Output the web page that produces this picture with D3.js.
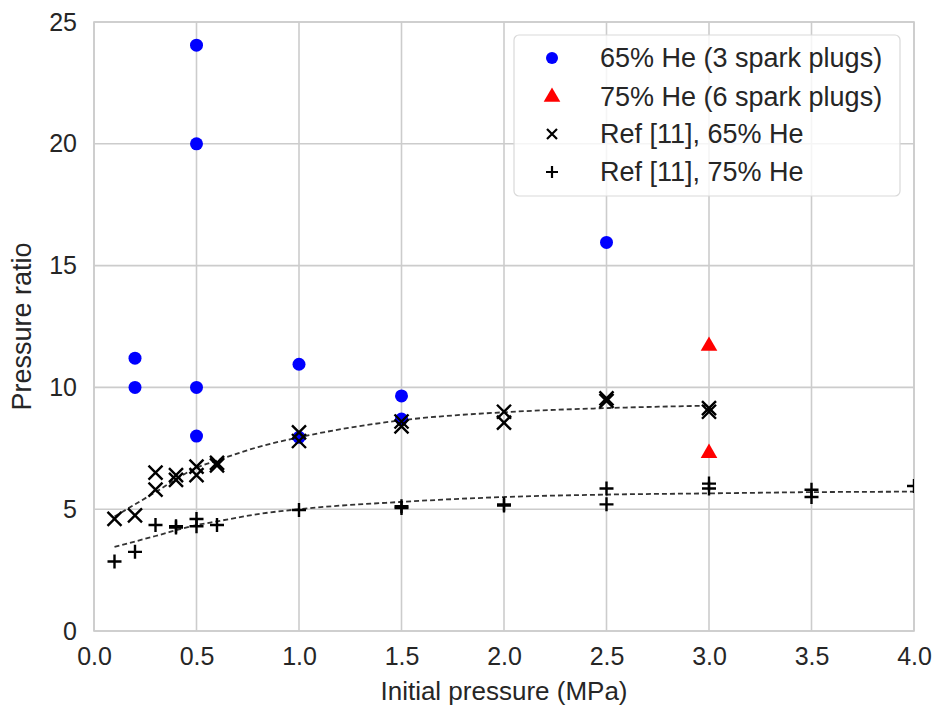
<!DOCTYPE html>
<html>
<head>
<meta charset="utf-8">
<script src="https://cdn.jsdelivr.net/npm/d3@7"></script>
<style>
body { margin: 0; background: #fff; }
text { font-family: "Liberation Sans", Arial, sans-serif; fill: #262626; }
</style>
</head>
<body>
<div id="svg"></div>
<script>
var width = 933;
var height = 707;

// 65% He, 3 spark plugs
var he65_x = [0.2, 0.2, 0.5, 0.5, 0.5, 0.5, 1.0, 1.0, 1.5, 1.5, 2.5];
var he65_y = [11.2, 10.0, 24.05, 20.0, 10.0, 8.0, 10.95, 7.95, 9.65, 8.7, 15.95];
// 75% He, 6 spark plugs
var he75_x = [3.0, 3.0];
var he75_y = [11.7, 7.3];
// Ref [11], 65% He
var ref65_x = [0.1, 0.2, 0.3, 0.3, 0.4, 0.4, 0.5, 0.5, 0.6, 0.6, 1.0, 1.0, 1.5, 1.5, 2.0, 2.0, 2.5, 2.5, 3.0, 3.0];
var ref65_y = [4.6, 4.75, 5.8, 6.5, 6.2, 6.4, 6.4, 6.75, 6.8, 6.9, 8.15, 7.8, 8.6, 8.4, 9.0, 8.55, 9.55, 9.45, 9.15, 9.0];
// Ref [11], 75% He
var ref75_x = [0.1, 0.2, 0.3, 0.4, 0.4, 0.5, 0.5, 0.6, 1.0, 1.5, 1.5, 2.0, 2.0, 2.5, 2.5, 3.0, 3.0, 3.5, 3.5, 4.0];
var ref75_y = [2.85, 3.25, 4.35, 4.25, 4.3, 4.3, 4.6, 4.35, 4.97, 5.05, 5.12, 5.15, 5.2, 5.85, 5.2, 6.05, 5.85, 5.8, 5.5, 5.95];
// dashed fit curves
var fit65_x = [0.1, 0.3, 0.5, 0.6, 0.8, 1.0, 1.5, 2.0, 2.5, 3.0];
var fit65_y = [4.7, 5.7, 6.7, 7.0, 7.55, 7.95, 8.65, 8.98, 9.15, 9.25];
var fit75_x = [0.1, 0.3, 0.5, 0.6, 0.8, 1.0, 1.5, 2.0, 2.5, 3.0, 3.5, 4.0];
var fit75_y = [3.45, 3.9, 4.35, 4.5, 4.8, 5.0, 5.3, 5.5, 5.6, 5.65, 5.7, 5.72];

var x_ticks = [0, 0.5, 1.0, 1.5, 2.0, 2.5, 3.0, 3.5, 4.0];
var y_ticks = [0, 5, 10, 15, 20, 25];
var legend_labels = ['65% He (3 spark plugs)', '75% He (6 spark plugs)', 'Ref [11], 65% He', 'Ref [11], 75% He'];

var m_left = 94, m_right = 914, m_top = 22, m_bottom = 631;

var canvas = d3.select('#svg')
	.append('svg')
	.attr('width', width)
	.attr('height', height);

var x = d3.scaleLinear().domain([0, 4]).range([m_left, m_right]);
var y = d3.scaleLinear().domain([0, 25]).range([m_bottom, m_top]);

function zip(xs, ys) { return xs.map((v, i) => [v, ys[i]]); }

// grid
canvas.append('g').selectAll('line').data(x_ticks).enter().append('line')
	.attr('x1', d => x(d)).attr('x2', d => x(d))
	.attr('y1', m_top).attr('y2', m_bottom)
	.attr('stroke', '#cccccc').attr('stroke-width', 1.6);
canvas.append('g').selectAll('line').data(y_ticks).enter().append('line')
	.attr('x1', m_left).attr('x2', m_right)
	.attr('y1', d => y(d)).attr('y2', d => y(d))
	.attr('stroke', '#cccccc').attr('stroke-width', 1.6);

// frame
canvas.append('rect')
	.attr('x', m_left).attr('y', m_top)
	.attr('width', m_right - m_left).attr('height', m_bottom - m_top)
	.attr('fill', 'none').attr('stroke', '#cccccc').attr('stroke-width', 1.6);

// tick labels
var xAxis = d3.axisBottom(x).tickValues(x_ticks).tickFormat(d3.format('.1f')).tickSize(0).tickPadding(16);
var gx = canvas.append('g').attr('transform', 'translate(0,' + m_bottom + ')').call(xAxis);
var yAxis = d3.axisLeft(y).tickValues(y_ticks).tickFormat(d3.format('d')).tickSize(0).tickPadding(17);
var gy = canvas.append('g').attr('transform', 'translate(' + m_left + ',0)').call(yAxis);
[gx, gy].forEach(g => {
	g.select('.domain').remove();
	g.selectAll('text').style('font-size', '25px').style('font-family', '"Liberation Sans", Arial, sans-serif').attr('fill', '#262626');
});

canvas.append('text')
	.attr('x', (m_left + m_right) / 2).attr('y', 700)
	.attr('text-anchor', 'middle').style('font-size', '26px')
	.text('Initial pressure (MPa)');
canvas.append('text')
	.attr('transform', 'translate(31,' + ((m_top + m_bottom) / 2) + ') rotate(-90)')
	.attr('text-anchor', 'middle').style('font-size', '27px')
	.text('Pressure ratio');

// clip
canvas.append('clipPath').attr('id', 'clip')
	.append('rect').attr('x', m_left).attr('y', m_top).attr('width', m_right - m_left).attr('height', m_bottom - m_top);
var plot = canvas.append('g').attr('clip-path', 'url(#clip)');

var line = d3.line().x(d => x(d[0])).y(d => y(d[1])).curve(d3.curveMonotoneX);
[zip(fit65_x, fit65_y), zip(fit75_x, fit75_y)].forEach(d => {
	plot.append('path').attr('d', line(d))
		.attr('fill', 'none').attr('stroke', '#333333')
		.attr('stroke-width', 1.8).attr('stroke-dasharray', '5,3');
});

var xMark = 'M-7,-7L7,7M-7,7L7,-7';
var plusMark = 'M-7,0L7,0M0,-7L0,7';

function cross(g, data, mark) {
	g.selectAll(null).data(data).enter().append('path')
		.attr('d', mark)
		.attr('transform', d => 'translate(' + x(d[0]) + ',' + y(d[1]) + ')')
		.attr('stroke', '#000').attr('stroke-width', 2.4).attr('fill', 'none');
}

// blue dots first, black markers drawn over them
plot.selectAll(null).data(zip(he65_x, he65_y)).enter().append('circle')
	.attr('cx', d => x(d[0])).attr('cy', d => y(d[1])).attr('r', 6.5)
	.attr('fill', '#0000ff');

var tri = d3.symbol().type(d3.symbolTriangle).size(120);
plot.selectAll(null).data(zip(he75_x, he75_y)).enter().append('path')
	.attr('d', tri)
	.attr('transform', d => 'translate(' + x(d[0]) + ',' + y(d[1]) + ')')
	.attr('fill', '#ff0000');

cross(plot, zip(ref65_x, ref65_y), xMark);
cross(plot, zip(ref75_x, ref75_y), plusMark);

// legend
var lg = canvas.append('g');
lg.append('rect')
	.attr('x', 514).attr('y', 35).attr('width', 386).attr('height', 161)
	.attr('rx', 5).attr('fill', 'rgba(255,255,255,0.8)')
	.attr('stroke', '#d9d9d9').attr('stroke-width', 1.2);
var ly = [58, 97, 134, 172];
legend_labels.forEach((t, i) => {
	var mx = 552;
	if (i == 0) lg.append('circle').attr('cx', mx).attr('cy', ly[i]).attr('r', 6).attr('fill', '#0000ff');
	if (i == 1) lg.append('path').attr('d', tri).attr('transform', 'translate(' + mx + ',' + ly[i] + ')').attr('fill', '#ff0000');
	if (i == 2 || i == 3) lg.append('path').attr('d', i == 2 ? 'M-5,-5L5,5M-5,5L5,-5' : 'M-6,0L6,0M0,-6L0,6')
		.attr('transform', 'translate(' + mx + ',' + ly[i] + ')')
		.attr('stroke', '#000').attr('stroke-width', 2.2);
	lg.append('text').attr('x', 600).attr('y', ly[i] + 9).style('font-size', '27px').text(t);
});
</script>
</body>
</html>
